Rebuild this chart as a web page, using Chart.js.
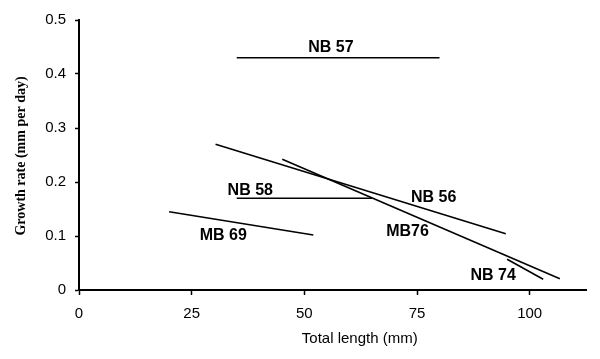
<!DOCTYPE html>
<html>
<head>
<meta charset="utf-8">
<script src="https://cdn.jsdelivr.net/npm/chart.js@4"></script>
<style>
  body { margin: 0; background: #fff; }
  #wrap { width: 600px; height: 359px; }
</style>
</head>
<body>
<div id="wrap"><canvas id="growthChart" width="600" height="359"></canvas></div>
<script>
// growth rate vs total length, one straight segment per fish
const nb57X = [35, 80];     const nb57Y = [0.43, 0.43];
const nb58X = [35, 65];     const nb58Y = [0.17, 0.17];
const mb69X = [20, 52];     const mb69Y = [0.145, 0.102];
const nb56X = [30.3, 94.7]; const nb56Y = [0.27, 0.104];
const mb76X = [45.1, 106.7]; const mb76Y = [0.242, 0.021];
const nb74X = [95, 103];    const nb74Y = [0.057, 0.02];

const seriesNames = ["NB 57", "NB 58", "MB 69", "NB 56", "MB76", "NB 74"];
const labelX = [55.9, 38.0, 32.0, 78.7, 72.9, 91.9];
const labelY = [0.448, 0.185, 0.100, 0.172, 0.109, 0.026];

const xTicks = [0, 25, 50, 75, 100];
const yTicks = [0, 0.1, 0.2, 0.3, 0.4, 0.5];

function toPoints(xs, ys) {
    return xs.map((x, i) => ({ x: x, y: ys[i] }));
}

const seriesData = [
    toPoints(nb57X, nb57Y), toPoints(nb58X, nb58Y), toPoints(mb69X, mb69Y),
    toPoints(nb56X, nb56Y), toPoints(mb76X, mb76Y), toPoints(nb74X, nb74Y)
];

// labels next to the lines + axis titles
const textPlugin = {
    id: "lineLabels",
    afterDraw(chart) {
        const ctx = chart.ctx;
        const xs = chart.scales.x, ys = chart.scales.y;
        ctx.save();
        ctx.fillStyle = "#000";
        ctx.textAlign = "center";
        ctx.textBaseline = "middle";
        ctx.font = "bold 16px 'Liberation Sans', Arial, sans-serif";
        seriesNames.forEach((name, i) => {
            ctx.fillText(name, xs.getPixelForValue(labelX[i]), ys.getPixelForValue(labelY[i]));
        });

        ctx.font = "15px 'Liberation Sans', Arial, sans-serif";
        ctx.fillText("Total length (mm)", xs.getPixelForValue(62.3), 339);

        ctx.translate(21, (chart.chartArea.top + chart.chartArea.bottom) / 2 + 1);
        ctx.rotate(-Math.PI / 2);
        ctx.font = "bold 14px 'Liberation Serif', 'Times New Roman', serif";
        ctx.fillText("Growth rate (mm per day)", 0, 0);
        ctx.restore();
    }
};

new Chart(document.getElementById("growthChart"), {
    type: "scatter",
    data: {
        datasets: seriesData.map((pts, i) => ({
            label: seriesNames[i],
            data: pts,
            showLine: true,
            borderColor: "#000",
            borderWidth: 1.6,
            pointRadius: 0,
            fill: false
        }))
    },
    options: {
        responsive: false,
        animation: false,
        layout: { padding: { top: 20, right: 14, left: 0, bottom: 0 } },
        plugins: { legend: { display: false }, tooltip: { enabled: false } },
        scales: {
            x: {
                type: "linear",
                min: 0,
                max: 112.5,
                afterBuildTicks: axis => { axis.ticks = xTicks.map(v => ({ value: v })); },
                afterFit: axis => { axis.height = 69; },
                grid: { drawOnChartArea: false, tickLength: 5, color: "#000", tickWidth: 1.5 },
                border: { color: "#000", width: 2 },
                ticks: { color: "#000", padding: 10, maxRotation: 0,
                         font: { family: "'Liberation Sans', Arial, sans-serif", size: 15 } }
            },
            y: {
                min: 0,
                max: 0.5,
                afterBuildTicks: axis => { axis.ticks = yTicks.map(v => ({ value: v })); },
                afterFit: axis => { axis.width = 79; },
                grid: { drawOnChartArea: false, tickLength: 4, color: "#000", tickWidth: 1.5 },
                border: { color: "#000", width: 2 },
                ticks: { color: "#000", padding: 9,
                         callback: v => (v === 0 ? "0" : v.toFixed(1)),
                         font: { family: "'Liberation Sans', Arial, sans-serif", size: 15 } }
            }
        }
    },
    plugins: [textPlugin]
});
</script>
</body>
</html>
